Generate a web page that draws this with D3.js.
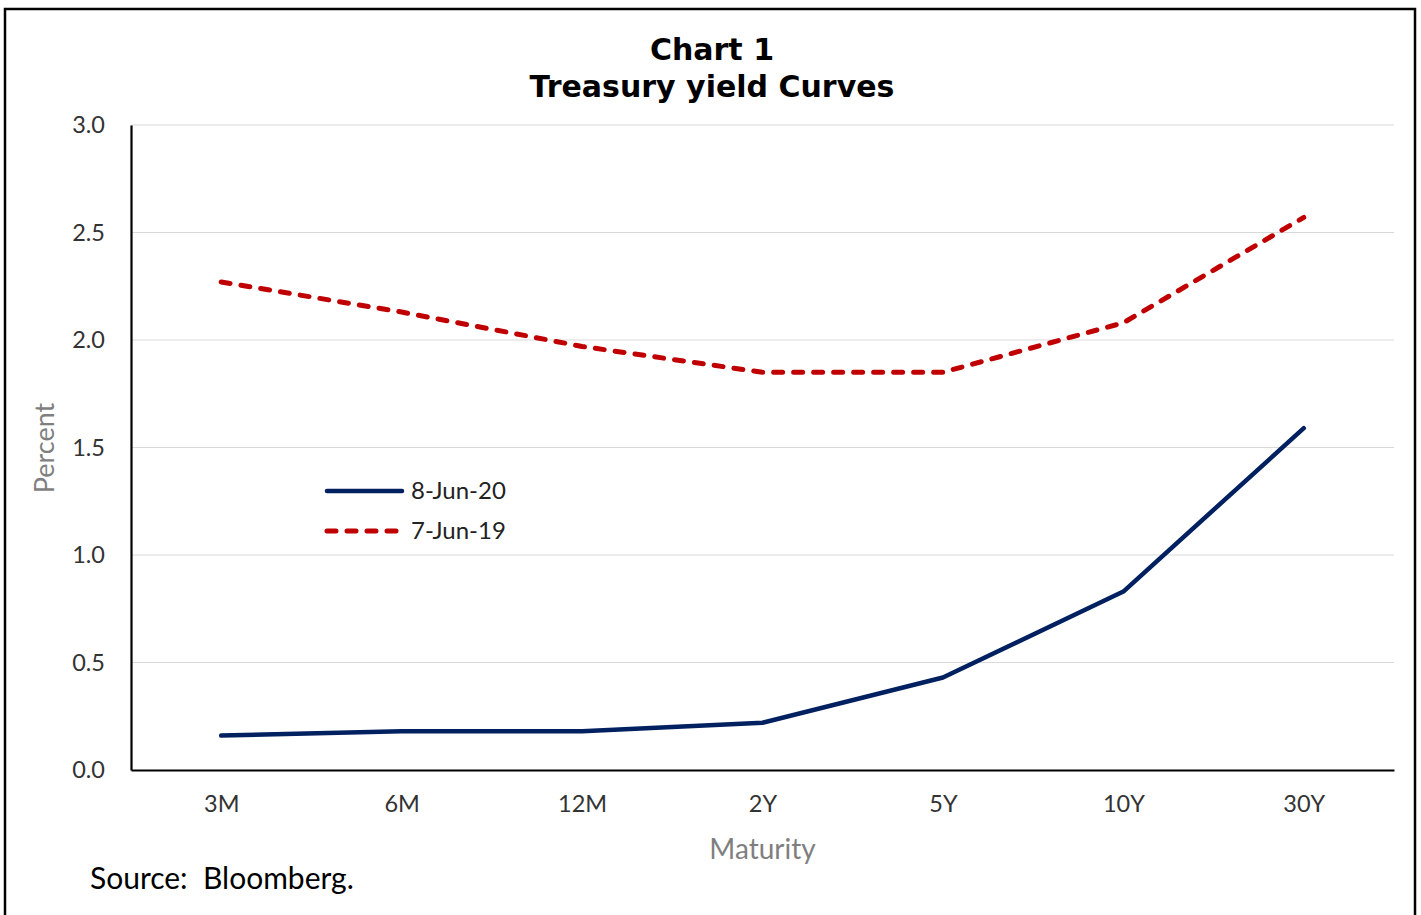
<!DOCTYPE html>
<html>
<head>
<meta charset="utf-8">
<script src="https://cdn.jsdelivr.net/npm/d3@7"></script>
<style>
  html, body { margin: 0; padding: 0; background: #fff; }
  svg { display: block; }
</style>
</head>
<body>
<svg id="chart" width="1421" height="915"></svg>
<script>
// Treasury yields by maturity, percent
const maturities = ["3M", "6M", "12M", "2Y", "5Y", "10Y", "30Y"];
const yields2020 = [0.16, 0.18, 0.18, 0.22, 0.43, 0.83, 1.59];
const yields2019 = [2.27, 2.13, 1.97, 1.85, 1.85, 2.08, 2.57];
const seriesNames = ["8-Jun-20", "7-Jun-19"];
const yTicks = [0, 0.5, 1.0, 1.5, 2.0, 2.5, 3.0];

const svg = d3.select("#chart");
const plot = { left: 131, right: 1394, top: 125, bottom: 770 };
const labelFont = "Lato, 'Open Sans', sans-serif";

// outer frame
svg.append("rect")
  .attr("x", 5).attr("y", 9).attr("width", 1410).attr("height", 920)
  .attr("fill", "none").attr("stroke", "#000").attr("stroke-width", 2.5);

// title
const title = svg.append("text")
  .attr("text-anchor", "middle")
  .attr("font-family", "Verdana, 'DejaVu Sans', sans-serif")
  .attr("font-weight", "bold")
  .attr("font-size", 30)
  .attr("fill", "#000");
title.append("tspan").attr("x", 712).attr("y", 60).text("Chart 1");
title.append("tspan").attr("x", 712).attr("y", 97).text("Treasury yield Curves");

const x = d3.scalePoint()
  .domain(maturities)
  .range([plot.left, plot.right])
  .padding(0.5);

const y = d3.scaleLinear()
  .domain([0, 3.0])
  .range([plot.bottom, plot.top]);

// horizontal gridlines
svg.append("g")
  .selectAll("line")
  .data(yTicks.filter(d => d > 0))
  .join("line")
  .attr("x1", plot.left).attr("x2", plot.right)
  .attr("y1", d => y(d)).attr("y2", d => y(d))
  .attr("stroke", "#d9d9d9").attr("stroke-width", 1.2);

// y axis
const yAxis = svg.append("g")
  .attr("transform", `translate(${plot.left},0)`)
  .call(d3.axisLeft(y).tickValues(yTicks).tickFormat(d3.format(".1f")).tickSize(0).tickPadding(26));
yAxis.select(".domain").attr("stroke", "#000").attr("stroke-width", 2.2);
yAxis.selectAll("text")
  .attr("font-family", labelFont).attr("font-size", 23.5).attr("fill", "#333");

// x axis
const xAxis = svg.append("g")
  .attr("transform", `translate(0,${plot.bottom})`)
  .call(d3.axisBottom(x).tickSize(0).tickPadding(25));
xAxis.select(".domain").attr("stroke", "#000").attr("stroke-width", 2.2);
xAxis.selectAll("text")
  .attr("font-family", labelFont).attr("font-size", 23.5).attr("fill", "#333");

// axis titles
svg.append("text")
  .attr("x", (plot.left + plot.right) / 2).attr("y", 859)
  .attr("text-anchor", "middle")
  .attr("font-family", labelFont).attr("font-size", 28).attr("fill", "#7f7f7f")
  .text("Maturity");

svg.append("text")
  .attr("transform", `translate(54,448) rotate(-90)`)
  .attr("text-anchor", "middle")
  .attr("font-family", labelFont).attr("font-size", 27).attr("fill", "#7f7f7f")
  .text("Percent");

// source note
svg.append("text")
  .attr("x", 90).attr("y", 889)
  .attr("font-family", labelFont).attr("font-size", 30).attr("fill", "#000")
  .attr("xml:space", "preserve")
  .text("Source:  Bloomberg.");

// series lines
const line = d3.line()
  .x((d, i) => x(maturities[i]))
  .y(d => y(d));

const styles = [
  { color: "#002060", width: 4.5, dash: null },
  { color: "#c00000", width: 5, dash: "9,11" }
];
const series = [yields2020, yields2019];

series.forEach((vals, k) => {
  svg.append("path")
    .datum(vals)
    .attr("d", line)
    .attr("fill", "none")
    .attr("stroke", styles[k].color)
    .attr("stroke-width", styles[k].width)
    .attr("stroke-linejoin", "round")
    .attr("stroke-linecap", "round")
    .attr("stroke-dasharray", styles[k].dash);
});

// legend
const legend = svg.append("g").attr("transform", "translate(327,491)");
seriesNames.forEach((name, k) => {
  const g = legend.append("g").attr("transform", `translate(0,${k * 40})`);
  g.append("line")
    .attr("x1", 0).attr("x2", 75).attr("y1", 0).attr("y2", 0)
    .attr("stroke", styles[k].color)
    .attr("stroke-width", styles[k].width)
    .attr("stroke-linecap", "round")
    .attr("stroke-dasharray", styles[k].dash);
  g.append("text")
    .attr("x", 84).attr("y", 0).attr("dy", "0.35em")
    .attr("font-family", labelFont).attr("font-size", 24).attr("fill", "#222")
    .text(name);
});
</script>
</body>
</html>
